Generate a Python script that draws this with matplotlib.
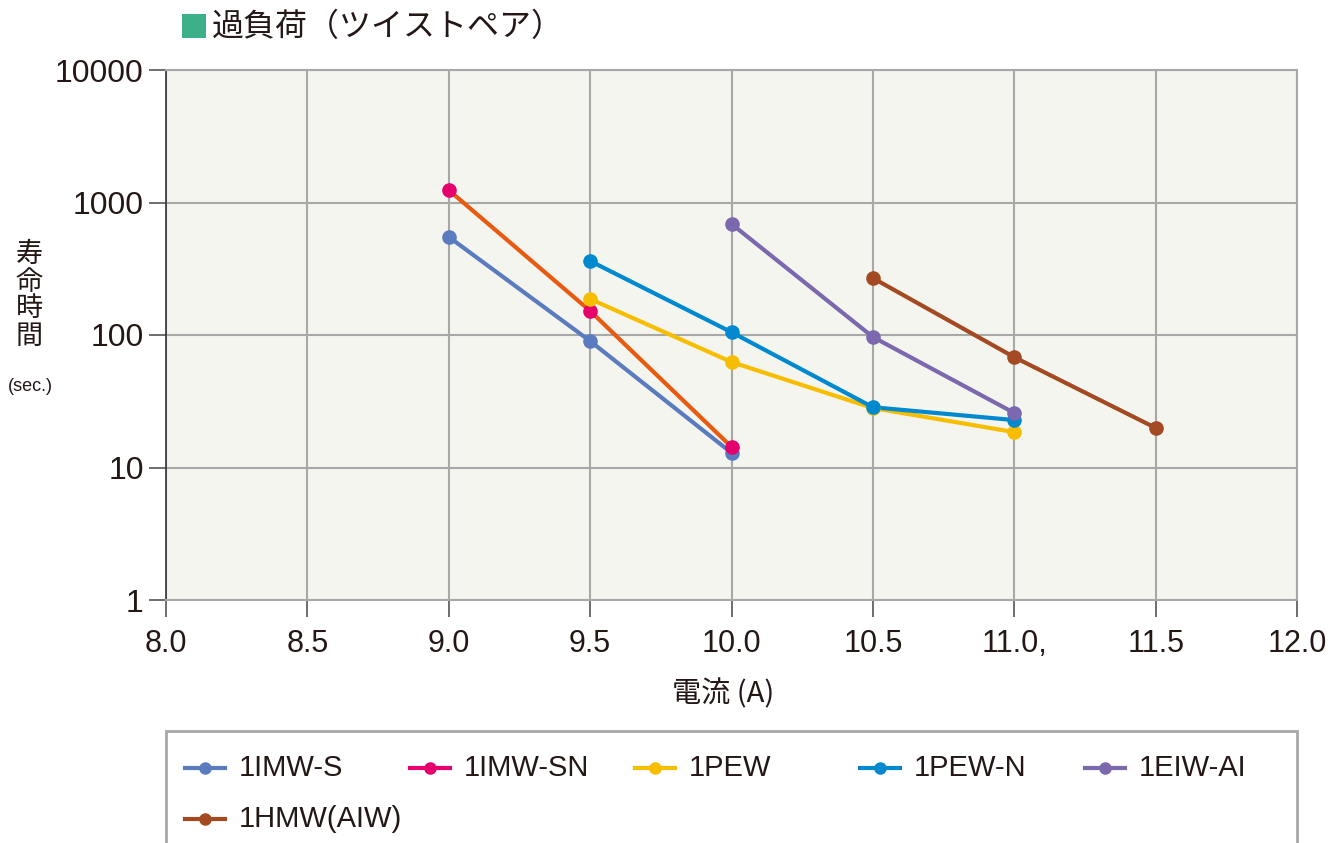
import matplotlib
matplotlib.use("Agg")
import matplotlib.pyplot as plt
from matplotlib.lines import Line2D
from matplotlib.patches import Rectangle
from matplotlib.ticker import FixedLocator, NullLocator, FixedFormatter

plt.rcParams['font.family'] = ['Liberation Sans', 'Noto Sans CJK JP', 'DejaVu Sans']

# ---- data ----
series_names = ["1IMW-S", "1IMW-SN", "1PEW", "1PEW-N", "1EIW-AI", "1HMW(AIW)"]
x_imw_s = [9.0, 9.5, 10.0]
y_imw_s = [550, 90, 12.9]
x_imw_sn = [9.0, 9.5, 10.0]
y_imw_sn = [1240, 152, 14.3]
x_pew = [9.5, 10.0, 10.5, 11.0]
y_pew = [187, 62.5, 28.1, 18.5]
x_pew_n = [9.5, 10.0, 10.5, 11.0]
y_pew_n = [362, 105, 28.5, 22.8]
x_eiw = [10.0, 10.5, 11.0]
y_eiw = [689, 96.6, 25.8]
x_hmw = [10.5, 11.0, 11.5]
y_hmw = [269, 68, 19.9]

x_ticks = [8.0, 8.5, 9.0, 9.5, 10.0, 10.5, 11.0, 11.5, 12.0]
x_ticklabels = ["8.0", "8.5", "9.0", "9.5", "10.0", "10.5", "11.0,", "11.5", "12.0"]
y_ticks = [1, 10, 100, 1000, 10000]
y_ticklabels = ["1", "10", "100", "1000", "10000"]

title = "過負荷（ツイストペア）"
ylabel_chars = ["寿", "命", "時", "間"]
ylabel_unit = "(sec.)"
xlabel = "電流 (A)"

line_colors = ["#5B7BBF", "#E85A10", "#F7BE00", "#0089CF", "#7B68AE", "#A44A22"]
marker_colors = ["#5B7BBF", "#E5006E", "#F7BE00", "#0089CF", "#7B68AE", "#A44A22"]
legend_colors = ["#5B7BBF", "#E5006E", "#F7BE00", "#0089CF", "#7B68AE", "#A44A22"]

xs = [x_imw_s, x_imw_sn, x_pew, x_pew_n, x_eiw, x_hmw]
ys = [y_imw_s, y_imw_sn, y_pew, y_pew_n, y_eiw, y_hmw]

TXT = "#231815"
CJK = ['Noto Sans CJK JP', 'DejaVu Sans']

W, H = 1337, 843
fig = plt.figure(figsize=(W / 100, H / 100), dpi=100)
fig.patch.set_facecolor("white")


def fx(px):
    return px / W


def fy(py):
    return 1 - py / H


L, R, T, B = 166, 1297, 70, 600
ax = fig.add_axes([fx(L), fy(B), (R - L) / W, (B - T) / H])
ax.set_facecolor("#F5F5F0")
ax.set_yscale("log")
ax.set_xlim(8.0, 12.0)
ax.set_ylim(1, 10000)

ax.xaxis.set_major_locator(FixedLocator(x_ticks))
ax.xaxis.set_major_formatter(FixedFormatter(x_ticklabels))
ax.yaxis.set_major_locator(FixedLocator(y_ticks))
ax.yaxis.set_major_formatter(FixedFormatter(y_ticklabels))
ax.yaxis.set_minor_locator(NullLocator())
ax.xaxis.set_minor_locator(NullLocator())

ax.grid(True, color="#A8A8A8", linewidth=1.5)
ax.set_axisbelow(True)
for s in ["top", "right", "bottom"]:
    ax.spines[s].set_color("#A8A8A8")
    ax.spines[s].set_linewidth(1.5)
ax.spines["left"].set_color("#333333")
ax.spines["left"].set_linewidth(1.2)
ax.tick_params(axis="x", length=12, width=1.2, color="#555555", labelsize=22, pad=9, labelcolor=TXT)
ax.tick_params(axis="y", length=12, width=1.2, color="#555555", labelsize=23, pad=4, labelcolor=TXT)

for x, y, lc, mc in zip(xs, ys, line_colors, marker_colors):
    ax.plot(x, y, color=lc, linewidth=3, zorder=3)
    ax.plot(x, y, linestyle="none", marker="o", markersize=9.5, color=mc, zorder=4)

# title
fig.patches.append(Rectangle((fx(182), fy(38)), 24 / W, 24 / H, transform=fig.transFigure,
                             facecolor="#3DB08A", edgecolor="none"))
fig.text(fx(212), fy(27), title, fontsize=23, va="center", ha="left", family=CJK, color=TXT)

# y label (stacked vertically)
for i, ch in enumerate(ylabel_chars):
    fig.text(fx(29), fy(255 + 27 * i), ch, fontsize=19.5, va="center", ha="center", family=CJK, color=TXT)
fig.text(fx(30), fy(387), ylabel_unit, fontsize=13, va="center", ha="center", color=TXT)

# x label
fig.text(fx(723), fy(694), xlabel, fontsize=21, va="center", ha="center", family=CJK, color=TXT)

# legend box
fig.patches.append(Rectangle((fx(166), -0.05), (R - L) / W, 0.05 + fy(731), transform=fig.transFigure,
                             facecolor="white", edgecolor="#A8A8A8", linewidth=2))
for i, (name, c) in enumerate(zip(series_names, legend_colors)):
    col, row = i % 5, i // 5
    x0 = 185 + 225 * col
    yy = 768 + 51 * row
    fig.add_artist(Line2D([fx(x0), fx(x0 + 40)], [fy(yy), fy(yy)], transform=fig.transFigure,
                          color=c, linewidth=3))
    fig.add_artist(Line2D([fx(x0 + 20)], [fy(yy)], transform=fig.transFigure,
                          color=c, marker="o", markersize=8, linestyle="none"))
    fig.text(fx(x0 + 54), fy(yy), name, fontsize=21, va="center", ha="left", color=TXT)

fig.savefig("out.png", dpi=100, facecolor="white")
